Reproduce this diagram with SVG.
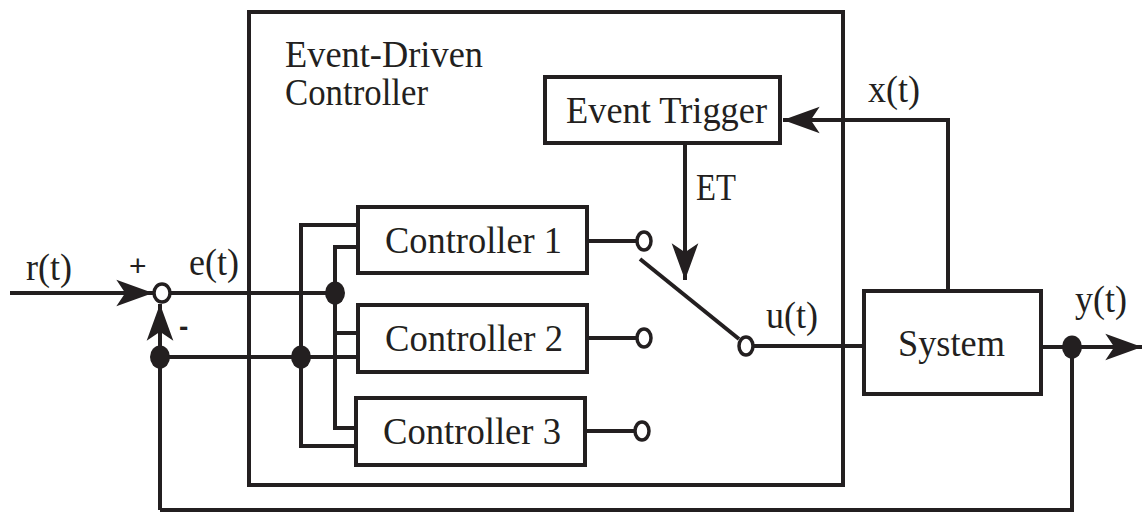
<svg xmlns="http://www.w3.org/2000/svg" width="1144" height="517" viewBox="0 0 1144 517">
  <style>
    .box { fill: #ffffff; stroke: #231f20; stroke-width: 4; }
    .frame { fill: none; stroke: #231f20; stroke-width: 4; }
    .wire { fill: none; stroke: #231f20; stroke-width: 4; }
    .dot { fill: #231f20; }
    .port { fill: #ffffff; stroke: #231f20; stroke-width: 3.5; }
    .lbl { font-family: 'Liberation Serif', 'Times New Roman', serif; font-size: 38px; fill: #231f20; }
    .sign { font-family: 'Liberation Sans', Arial, sans-serif; fill: #231f20; }
  </style>
  <defs>
    <marker id="arrow" markerUnits="userSpaceOnUse" markerWidth="40" markerHeight="30" viewBox="-34 -13 36 26" refX="0" refY="0" orient="auto">
      <path d="M0,0 L-33,-12 L-25,0 L-33,12 Z" fill="#231f20"/>
    </marker>
  </defs>

  <!-- event-driven controller enclosure -->
  <g id="edc-frame">
    <rect class="frame" x="249" y="12" width="594" height="473"/>
    <text class="lbl" x="285" y="67" font-size="35" textLength="198" lengthAdjust="spacingAndGlyphs">Event-Driven</text>
    <text class="lbl" x="285" y="105" font-size="35" textLength="143" lengthAdjust="spacingAndGlyphs">Controller</text>
  </g>

  <!-- connectors -->
  <g id="connectors">
    <!-- reference input to summing junction -->
    <line class="wire" x1="10" y1="293" x2="153" y2="293" marker-end="url(#arrow)"/>
    <!-- feedback into summing junction -->
    <line class="wire" x1="160" y1="510" x2="160" y2="304" marker-end="url(#arrow)"/>
    <!-- error signal -->
    <line class="wire" x1="170" y1="293" x2="335" y2="293"/>
    <!-- measured output line -->
    <line class="wire" x1="160" y1="357" x2="358" y2="357"/>
    <!-- output bus (y) to controllers -->
    <polyline class="wire" points="358,225 301,225 301,446 358,446"/>
    <!-- error bus (e) to controllers -->
    <polyline class="wire" points="358,247 335,247 335,428 358,428"/>
    <line class="wire" x1="335" y1="333" x2="358" y2="333"/>
    <!-- controller outputs to switch contacts -->
    <line class="wire" x1="587" y1="241" x2="637" y2="241"/>
    <line class="wire" x1="587" y1="338" x2="637" y2="338"/>
    <line class="wire" x1="585" y1="431" x2="635" y2="431"/>
    <!-- switch blade -->
    <line class="wire" x1="640" y1="259" x2="739" y2="339"/>
    <!-- trigger signal -->
    <line class="wire" x1="685" y1="143" x2="685" y2="280" marker-end="url(#arrow)"/>
    <!-- control input u(t) -->
    <line class="wire" x1="753" y1="346" x2="864" y2="346"/>
    <!-- state feedback x(t) -->
    <polyline class="wire" points="948,291 948,120 783,120" marker-end="url(#arrow)"/>
    <!-- plant output -->
    <line class="wire" x1="1041" y1="347" x2="1142" y2="347" marker-end="url(#arrow)"/>
    <!-- outer feedback loop -->
    <polyline class="wire" points="1072,347 1072,510 160,510"/>
  </g>

  <!-- junction dots -->
  <g id="junctions">
    <ellipse class="dot" cx="160" cy="357" rx="10" ry="11.5"/>
    <ellipse class="dot" cx="335" cy="293" rx="10" ry="11.5"/>
    <ellipse class="dot" cx="301" cy="357" rx="10" ry="11.5"/>
    <ellipse class="dot" cx="1072" cy="347" rx="10" ry="11.5"/>
  </g>

  <!-- summing junction -->
  <g id="sum">
    <ellipse class="port" cx="162" cy="293" rx="8" ry="9"/>
    <text class="sign" x="129" y="276" font-size="30">+</text>
    <text class="sign" x="179" y="336" font-size="28" font-weight="bold">-</text>
  </g>

  <!-- switch contacts -->
  <g id="switch">
    <ellipse class="port" cx="644" cy="241" rx="7" ry="9"/>
    <ellipse class="port" cx="644" cy="338" rx="7" ry="9"/>
    <ellipse class="port" cx="642" cy="431" rx="7" ry="9"/>
    <ellipse class="port" cx="746" cy="346" rx="7" ry="9"/>
  </g>

  <g id="event-trigger">
    <rect class="box" x="545" y="77" width="235" height="66"/>
    <text class="lbl" x="566" y="123" textLength="201" lengthAdjust="spacingAndGlyphs">Event Trigger</text>
  </g>

  <g id="controller-1">
    <rect class="box" x="358" y="207" width="229" height="66"/>
    <text class="lbl" x="385" y="253" textLength="177" lengthAdjust="spacingAndGlyphs">Controller 1</text>
  </g>

  <g id="controller-2">
    <rect class="box" x="358" y="305" width="229" height="67"/>
    <text class="lbl" x="385" y="351" textLength="178" lengthAdjust="spacingAndGlyphs">Controller 2</text>
  </g>

  <g id="controller-3">
    <rect class="box" x="356" y="398" width="229" height="67"/>
    <text class="lbl" x="383" y="444" textLength="178" lengthAdjust="spacingAndGlyphs">Controller 3</text>
  </g>

  <g id="system">
    <rect class="box" x="864" y="291" width="177" height="103"/>
    <text class="lbl" x="898" y="356" textLength="107" lengthAdjust="spacingAndGlyphs">System</text>
  </g>

  <!-- signal labels -->
  <g id="signal-labels">
    <text class="lbl" x="26" y="280" textLength="46" lengthAdjust="spacingAndGlyphs">r(t)</text>
    <text class="lbl" x="189" y="275" textLength="50" lengthAdjust="spacingAndGlyphs">e(t)</text>
    <text class="lbl" x="696" y="200" textLength="40" lengthAdjust="spacingAndGlyphs">ET</text>
    <text class="lbl" x="766" y="328" textLength="52" lengthAdjust="spacingAndGlyphs">u(t)</text>
    <text class="lbl" x="868" y="102" textLength="52" lengthAdjust="spacingAndGlyphs">x(t)</text>
    <text class="lbl" x="1075" y="312" textLength="52" lengthAdjust="spacingAndGlyphs">y(t)</text>
  </g>
</svg>
